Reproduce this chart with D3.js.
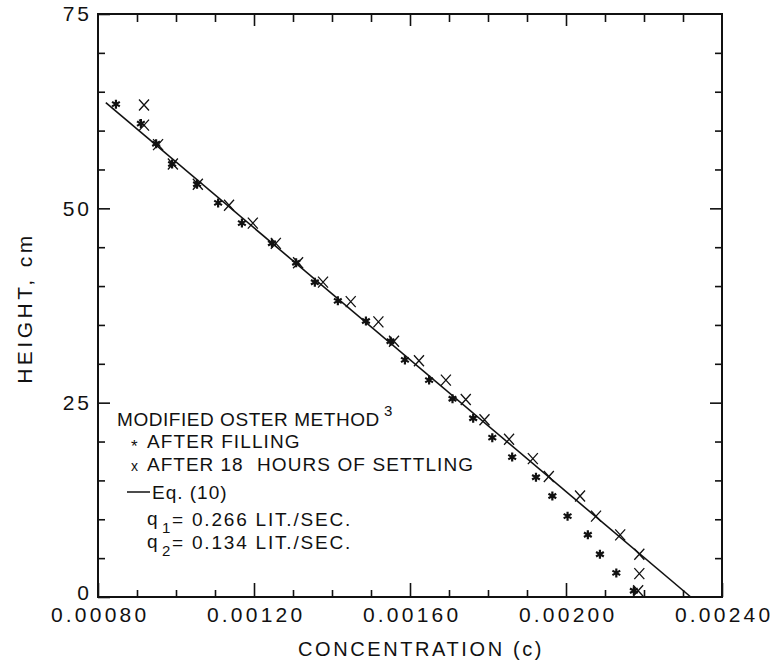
<!DOCTYPE html>
<html><head><meta charset="utf-8">
<script src="https://cdn.jsdelivr.net/npm/d3@7"></script>
<style>
body{margin:0;background:#fff}
text{font-family:"Liberation Sans",Arial,sans-serif;fill:#111}
</style>
</head><body>
<svg id="chart" width="776" height="666"></svg>
<script>
// ---- data ----
const fillC = [0.000846,0.000910,0.000949,0.000990,0.001054,0.001108,0.001169,0.001246,0.001308,0.001356,0.001415,0.001487,0.001550,0.001587,0.001649,0.001709,0.001762,0.001811,0.001862,0.001923,0.001965,0.002004,0.002056,0.002087,0.002129,0.002174];
const fillH = [63.4,60.9,58.3,55.7,53.1,50.7,48.1,45.5,43.0,40.5,38.1,35.5,32.9,30.5,27.9,25.5,23.0,20.5,18.0,15.4,13.0,10.4,8.0,5.5,3.1,0.8];
const settleC = [0.000918,0.000918,0.000954,0.000992,0.001056,0.001136,0.001197,0.001256,0.001313,0.001377,0.001448,0.001519,0.001559,0.001623,0.001692,0.001743,0.001791,0.001854,0.001915,0.001956,0.002036,0.002077,0.002139,0.002188,0.002188,0.002185];
const settleH = [63.3,60.7,58.2,55.7,53.1,50.4,48.1,45.5,43.0,40.5,38.0,35.4,32.9,30.4,27.9,25.4,22.8,20.3,17.8,15.5,13.0,10.4,8.0,5.5,3.0,0.8];
const eqC = [0.00082, 0.00232];
const eqH = [63.6, 0];
const xMajor = [0.0008,0.0012,0.0016,0.0020,0.0024];
const xLabels = ["0.00080","0.00120","0.00160","0.00200","0.00240"];
const xMinor = [0.0009,0.0010,0.0011,0.0013,0.0014,0.0015,0.0017,0.0018,0.0019,0.0021,0.0022,0.0023];
const yMajor = [0,25,50,75];
const yLabels = ["0","25","50","75"];
const yMinor = [5,10,15,20,30,35,40,45,55,60,65,70];
const xTitle = "CONCENTRATION (c)";
const yTitle = "HEIGHT, cm";

// ---- layout ----
const L=98, R=722, T=14, B=597;
const svg = d3.select("#chart");
const x = d3.scaleLinear().domain([0.0008,0.0024]).range([L,R]);
const y = d3.scaleLinear().domain([0,75]).range([B,T]);

function styleAxis(g){ g.select(".domain").remove(); g.selectAll("line").attr("stroke","#111").attr("stroke-width",1.6); }

// minor ticks
svg.append("g").attr("transform",`translate(0,${B})`).call(d3.axisBottom(x).tickValues(xMinor).tickSize(-7).tickFormat("")).call(styleAxis);
svg.append("g").attr("transform",`translate(0,${T})`).call(d3.axisTop(x).tickValues(xMinor).tickSize(-8).tickFormat("")).call(styleAxis);
svg.append("g").attr("transform",`translate(${L},0)`).call(d3.axisLeft(y).tickValues(yMinor).tickSize(-7).tickFormat("")).call(styleAxis);
svg.append("g").attr("transform",`translate(${R},0)`).call(d3.axisRight(y).tickValues(yMinor).tickSize(-7).tickFormat("")).call(styleAxis);
// major ticks
const xm = svg.append("g").attr("transform",`translate(0,${B})`)
  .call(d3.axisBottom(x).tickValues(xMajor).tickSize(-14).tickPadding(10).tickFormat((d,i)=>xLabels[i])).call(styleAxis);
xm.selectAll("text").attr("font-size",21).attr("letter-spacing",3.2).attr("dx",1.6).attr("font-family","Liberation Sans");
svg.append("g").attr("transform",`translate(0,${T})`).call(d3.axisTop(x).tickValues(xMajor.slice(1,-1)).tickSize(-12).tickFormat("")).call(styleAxis);
const ym = svg.append("g").attr("transform",`translate(${L},0)`)
  .call(d3.axisLeft(y).tickValues(yMajor).tickSize(-12).tickPadding(6).tickFormat((d,i)=>yLabels[i])).call(styleAxis);
ym.selectAll("text").attr("font-size",21).attr("letter-spacing",3).attr("font-family","Liberation Sans");
ym.selectAll(".tick").filter(d=>d===0).select("text").attr("dy","0.1em");
svg.append("g").attr("transform",`translate(${R},0)`).call(d3.axisRight(y).tickValues(yMajor.slice(1,-1)).tickSize(-12).tickFormat("")).call(styleAxis);

// frame
svg.append("rect").attr("x",L).attr("y",T).attr("width",R-L).attr("height",B-T)
  .attr("fill","none").attr("stroke","#111").attr("stroke-width",2);

// Eq. (10) line
const eqData = eqC.map((c,i)=>[c,eqH[i]]);
svg.append("path").datum(eqData)
  .attr("d",d3.line().x(d=>x(d[0])).y(d=>y(d[1])))
  .attr("fill","none").attr("stroke","#111").attr("stroke-width",1.6);

// asterisks: after filling
const star = "M0,-4.5L0,4.5M-3.9,-2.25L3.9,2.25M-3.9,2.25L3.9,-2.25";
svg.append("g").selectAll("path").data(fillC.map((c,i)=>[c,fillH[i]])).join("path")
  .attr("transform",d=>`translate(${x(d[0])},${y(d[1])})`)
  .attr("d",star).attr("stroke","#111").attr("stroke-width",2.2).attr("fill","none");

// crosses: after settling
const cross = "M-5,-5.5L5,5.5M-5,5.5L5,-5.5";
svg.append("g").selectAll("path").data(settleC.map((c,i)=>[c,settleH[i]])).join("path")
  .attr("transform",d=>`translate(${x(d[0])},${y(d[1])})`)
  .attr("d",cross).attr("stroke","#111").attr("stroke-width",1.3).attr("fill","none");

// axis titles
svg.append("text").attr("x",421).attr("y",656).attr("text-anchor","middle")
  .attr("font-size",20).attr("letter-spacing",2.6).text(xTitle);
svg.append("text").attr("transform","translate(32,308) rotate(-90)").attr("text-anchor","middle")
  .attr("font-size",21).attr("letter-spacing",3.5).text(yTitle);

// legend
const lg = svg.append("g").attr("font-size",19);
lg.append("text").attr("x",117).attr("y",426).attr("letter-spacing",0.55).text("MODIFIED OSTER METHOD");
lg.append("text").attr("x",384).attr("y",416).attr("font-size",15).text("3");
lg.append("text").attr("x",131).attr("y",452).attr("font-size",17).text("*");
lg.append("text").attr("x",147).attr("y",448).attr("letter-spacing",1.1).text("AFTER FILLING");
lg.append("text").attr("x",131).attr("y",471).attr("font-size",14).text("x");
lg.append("text").attr("x",147).attr("y",471).attr("letter-spacing",1.0).text("AFTER 18");
lg.append("text").attr("x",257).attr("y",471).attr("letter-spacing",1.1).text("HOURS OF SETTLING");
lg.append("line").attr("x1",127).attr("x2",150).attr("y1",492).attr("y2",492).attr("stroke","#111").attr("stroke-width",1.5);
lg.append("text").attr("x",152).attr("y",499).attr("letter-spacing",1.0).text("Eq. (10)");
lg.append("text").attr("x",147).attr("y",525).text("q");
lg.append("text").attr("x",162).attr("y",533).attr("font-size",15).text("1");
lg.append("text").attr("x",172).attr("y",526).attr("letter-spacing",1.8).text("= 0.266 LIT./SEC.");
lg.append("text").attr("x",147).attr("y",548).text("q");
lg.append("text").attr("x",162).attr("y",556).attr("font-size",15).text("2");
lg.append("text").attr("x",172).attr("y",549).attr("letter-spacing",1.8).text("= 0.134 LIT./SEC.");
</script>
</body></html>
